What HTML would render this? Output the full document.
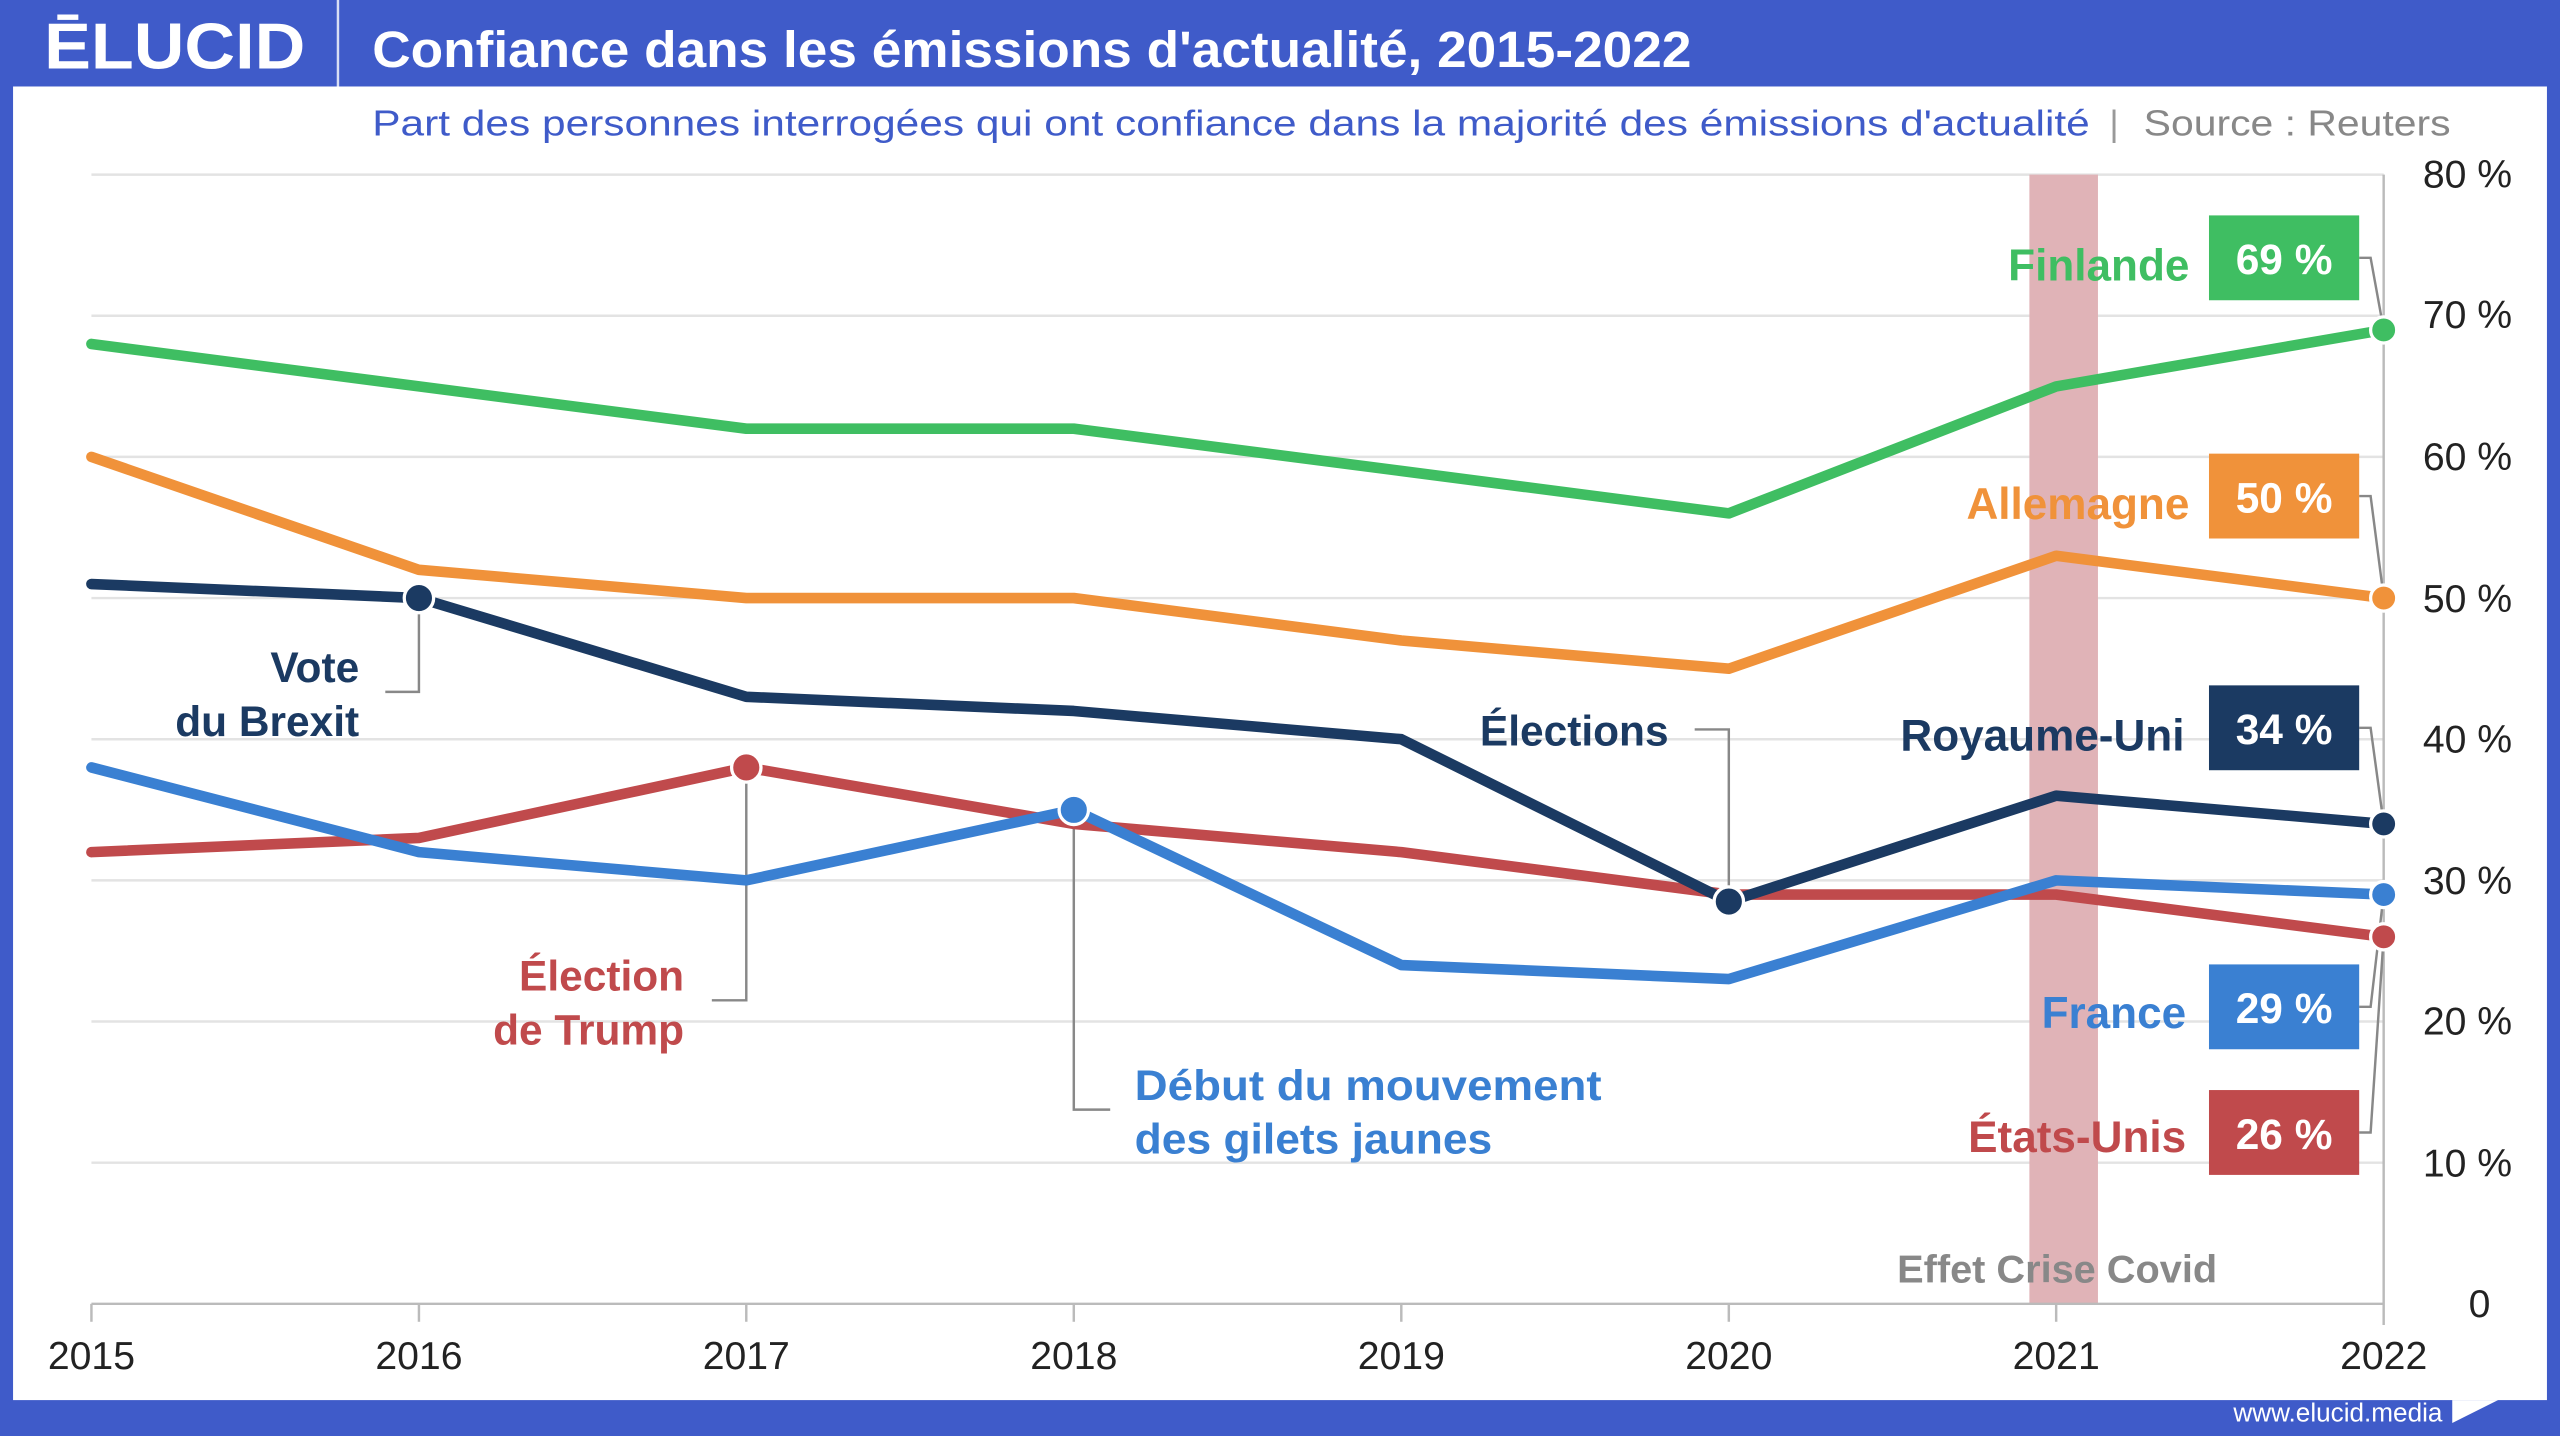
<!DOCTYPE html>
<html><head><meta charset="utf-8"><style>
html,body{margin:0;padding:0;background:#fff}
svg{display:block}
text{font-family:"Liberation Sans",sans-serif}
</style></head><body>
<svg width="2560" height="1436" viewBox="0 0 1568 880" preserveAspectRatio="none" xmlns="http://www.w3.org/2000/svg">
<rect x="0" y="0" width="1568" height="880" fill="#3f5bc9"/>
<rect x="8" y="53" width="1552" height="805" fill="#fff"/>
<line x1="207" y1="0" x2="207" y2="53" stroke="#fff" stroke-width="1.5" opacity="0.8"/>
<text x="27" y="42" font-size="40" font-weight="bold" fill="#fff" textLength="160" lengthAdjust="spacingAndGlyphs">ĒLUCID</text>
<text x="228" y="41" font-size="31" font-weight="bold" fill="#fff" textLength="808" lengthAdjust="spacingAndGlyphs">Confiance dans les émissions d'actualité, 2015-2022</text>
<text x="228" y="83" font-size="22" fill="#3f5bc9" textLength="1052" lengthAdjust="spacingAndGlyphs">Part des personnes interrogées qui ont confiance dans la majorité des émissions d'actualité</text>
<text x="1292" y="83" font-size="22" fill="#999">|</text>
<text x="1313" y="83" font-size="22" fill="#888" textLength="188" lengthAdjust="spacingAndGlyphs">Source : Reuters</text>
<g stroke="#e3e3e3" stroke-width="1.5">
<line x1="56" y1="107" x2="1460" y2="107"/>
<line x1="56" y1="193.5" x2="1460" y2="193.5"/>
<line x1="56" y1="280" x2="1460" y2="280"/>
<line x1="56" y1="366.5" x2="1460" y2="366.5"/>
<line x1="56" y1="453" x2="1460" y2="453"/>
<line x1="56" y1="539.5" x2="1460" y2="539.5"/>
<line x1="56" y1="626" x2="1460" y2="626"/>
<line x1="56" y1="712.5" x2="1460" y2="712.5"/>
</g>
<rect x="1243" y="107" width="42" height="692" fill="#e0b3b7"/>
<line x1="56" y1="799" x2="1460" y2="799" stroke="#bbb" stroke-width="1.5"/>
<line x1="1460" y1="107" x2="1460" y2="812" stroke="#bbb" stroke-width="1.5"/>
<g stroke="#bbb" stroke-width="1.5">
<line x1="56" y1="799" x2="56" y2="810"/><line x1="256.6" y1="799" x2="256.6" y2="810"/><line x1="457.1" y1="799" x2="457.1" y2="810"/><line x1="657.7" y1="799" x2="657.7" y2="810"/><line x1="858.3" y1="799" x2="858.3" y2="810"/><line x1="1058.9" y1="799" x2="1058.9" y2="810"/><line x1="1259.4" y1="799" x2="1259.4" y2="810"/>
</g>
<g font-size="24" fill="#222" text-anchor="middle">
<text x="56" y="839">2015</text><text x="256.6" y="839">2016</text><text x="457.1" y="839">2017</text><text x="657.7" y="839">2018</text><text x="858.3" y="839">2019</text><text x="1058.9" y="839">2020</text><text x="1259.4" y="839">2021</text><text x="1460" y="839">2022</text>
</g>
<g font-size="24" fill="#222">
<text x="1484" y="115">80 %</text><text x="1484" y="201">70 %</text><text x="1484" y="288">60 %</text><text x="1484" y="375">50 %</text><text x="1484" y="461">40 %</text><text x="1484" y="548">30 %</text><text x="1484" y="634">20 %</text><text x="1484" y="721">10 %</text><text x="1512" y="807">0</text>
</g>
<text x="1260" y="786" font-size="24" font-weight="bold" fill="#888" text-anchor="middle" textLength="196" lengthAdjust="spacingAndGlyphs">Effet Crise Covid</text>
<g stroke="#888" stroke-width="1.5" fill="none">
<polyline points="256.6,372 256.6,424 236,424"/>
<polyline points="457.1,476 457.1,613 436,613"/>
<polyline points="657.7,500 657.7,680 680,680"/>
<polyline points="1058.9,548 1058.9,447 1038,447"/>
<polyline points="1445,158 1452,158 1460,202"/>
<polyline points="1445,304 1452,304 1460,366"/>
<polyline points="1445,446 1452,446 1460,505"/>
<polyline points="1445,617 1452,617 1460,548"/>
<polyline points="1445,694 1452,694 1460,574"/>
</g>
<g fill="none" stroke-width="6.5" stroke-linejoin="round" stroke-linecap="round">
<polyline stroke="#3fbe62" points="56,210.8 256.6,236.8 457.1,262.7 657.7,262.7 858.3,288.6 1058.9,314.6 1259.4,236.8 1460,202.2"/>
<polyline stroke="#f0923a" points="56,280 256.6,349.2 457.1,366.5 657.7,366.5 858.3,392.5 1058.9,409.8 1259.4,340.6 1460,366.5"/>
<polyline stroke="#c04a4c" points="56,522.2 256.6,513.5 457.1,470.3 657.7,504.9 858.3,522.2 1058.9,548.2 1259.4,548.2 1460,574.1"/>
<polyline stroke="#3a80d2" points="56,470.3 256.6,522.2 457.1,539.5 657.7,496.3 858.3,591.4 1058.9,600 1259.4,539.5 1460,548.2"/>
<polyline stroke="#1b3a62" points="56,357.9 256.6,366.5 457.1,427 657.7,435.7 858.3,453 1058.9,552.5 1259.4,487.6 1460,504.9"/>
</g>
<g stroke="#fff" stroke-width="2">
<circle cx="256.6" cy="366.5" r="9" fill="#1b3a62"/>
<circle cx="457.1" cy="470.3" r="9" fill="#c04a4c"/>
<circle cx="657.7" cy="496.3" r="9" fill="#3a80d2"/>
<circle cx="1058.9" cy="552.5" r="9" fill="#1b3a62"/>
<circle cx="1460" cy="202.2" r="8" fill="#3fbe62"/>
<circle cx="1460" cy="366.5" r="8" fill="#f0923a"/>
<circle cx="1460" cy="504.9" r="8" fill="#1b3a62"/>
<circle cx="1460" cy="548.2" r="8" fill="#3a80d2"/>
<circle cx="1460" cy="574.1" r="8" fill="#c04a4c"/>
</g>
<g font-size="26" font-weight="bold">
<text x="220" y="418" fill="#1b3a62" text-anchor="end">Vote</text>
<text x="220" y="451" fill="#1b3a62" text-anchor="end">du Brexit</text>
<text x="419" y="607" fill="#c04a4c" text-anchor="end">Élection</text>
<text x="419" y="640" fill="#c04a4c" text-anchor="end">de Trump</text>
<text x="695" y="674" fill="#3a80d2" textLength="286" lengthAdjust="spacingAndGlyphs">Début du mouvement</text>
<text x="695" y="707" fill="#3a80d2" textLength="219" lengthAdjust="spacingAndGlyphs">des gilets jaunes</text>
<text x="1022" y="457" fill="#1b3a62" text-anchor="end">Élections</text>
</g>
<rect x="1353" y="132" width="92" height="52" fill="#3fbe62"/>
<rect x="1353" y="278" width="92" height="52" fill="#f0923a"/>
<rect x="1353" y="420" width="92" height="52" fill="#1b3a62"/>
<rect x="1353" y="591" width="92" height="52" fill="#3a80d2"/>
<rect x="1353" y="668" width="92" height="52" fill="#c04a4c"/>
<g font-size="26" font-weight="bold" fill="#fff" text-anchor="middle">
<text x="1399" y="168">69 %</text><text x="1399" y="314">50 %</text><text x="1399" y="456">34 %</text><text x="1399" y="627">29 %</text><text x="1399" y="704">26 %</text>
</g>
<g font-size="27" font-weight="bold" text-anchor="end">
<text x="1341" y="172" fill="#3fbe62">Finlande</text>
<text x="1341" y="318" fill="#f0923a">Allemagne</text>
<text x="1338" y="460" fill="#1b3a62">Royaume-Uni</text>
<text x="1339" y="630" fill="#3a80d2">France</text>
<text x="1339" y="706" fill="#c04a4c">États-Unis</text>
</g>
<text x="1496" y="871" font-size="16" fill="#fff" text-anchor="end">www.elucid.media</text>
<polygon points="1502,872 1530,858 1502,858" fill="#fff"/>
<polygon points="1502,858 1530,845 1530,858" fill="#fff"/>
</svg>
</body></html>
